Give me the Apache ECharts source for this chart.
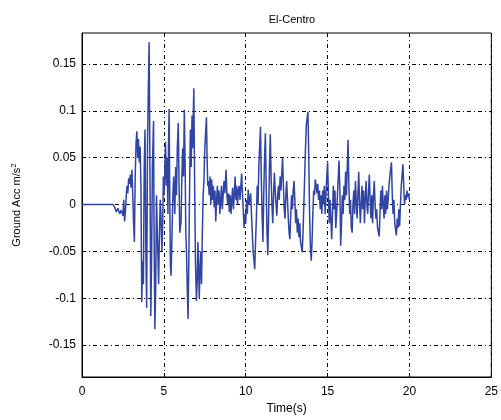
<!DOCTYPE html>
<html>
<head>
<meta charset="utf-8">
<script src="https://cdn.jsdelivr.net/npm/echarts@6/dist/echarts.min.js"></script>
<style>html,body{margin:0;padding:0;background:#fff;}#c{width:501px;height:420px;}</style>
</head>
<body>
<div id="c"></div>
<script>
const titleText = 'El-Centro';
const xTicks = [0, 5, 10, 15, 20, 25];
const yTicks = [-0.15, -0.1, -0.05, 0, 0.05, 0.1, 0.15];
const yTickLabels = ['-0.15', '-0.1', '-0.05', '0', '0.05', '0.1', '0.15'];
// [time (s), ground acceleration]
const accRecord = [
[0,0],[1.9,0],[2.0,-0.003],[2.1,-0.008],[2.2,-0.004],[2.3,-0.010],[2.4,-0.006],[2.5,-0.012],[2.55,0.005],[2.6,-0.018],
[2.65,-0.008],[2.7,0.008],[2.75,0.020],[2.8,0.012],[2.85,0.028],[2.9,0.022],[2.95,0.032],[3.0,0.018],[3.05,0.037],[3.1,0.010],
[3.15,-0.020],[3.2,-0.040],[3.25,0.030],[3.3,0.065],[3.35,0.078],[3.4,0.050],[3.45,0.070],[3.5,0.045],[3.55,0.062],[3.6,0.020],
[3.65,-0.104],[3.7,-0.060],[3.75,-0.085],[3.8,0.040],[3.85,0.080],[3.9,-0.050],[3.95,-0.110],[4.0,0.060],[4.05,0.120],[4.1,0.173],
[4.15,0.040],[4.2,-0.119],[4.25,-0.060],[4.3,0.040],[4.37,0.089],[4.4,-0.020],[4.45,-0.133],[4.5,-0.090],[4.55,0.010],[4.6,-0.030],
[4.68,-0.085],[4.72,-0.040],[4.78,0.005],[4.82,-0.010],[4.88,-0.050],[4.93,-0.020],[4.97,0.030],[5.02,0.010],[5.1,0.067],[5.15,0.020],
[5.2,0.050],[5.25,-0.010],[5.28,0.060],[5.32,0.102],[5.36,0.010],[5.4,-0.065],[5.44,-0.076],[5.5,-0.030],[5.55,0.010],[5.6,0.030],
[5.67,-0.010],[5.72,0.040],[5.77,0.010],[5.82,0.060],[5.88,0.087],[5.93,0.020],[5.97,-0.030],[6.05,-0.018],[6.1,0.030],[6.15,0.060],
[6.2,0.030],[6.25,0.101],[6.3,0.040],[6.34,-0.030],[6.38,-0.050],[6.43,-0.090],[6.48,-0.122],[6.53,-0.050],[6.58,0.030],[6.62,0.080],
[6.67,0.040],[6.72,0.095],[6.76,0.060],[6.83,0.124],[6.88,0.020],[6.93,-0.060],[6.99,-0.103],[7.04,-0.080],[7.08,-0.040],[7.12,-0.065],
[7.16,-0.100],[7.2,-0.074],[7.25,-0.050],[7.3,-0.085],[7.35,-0.030],[7.4,0.010],[7.45,0.027],[7.5,0.060],[7.6,0.093],[7.64,0.050],
[7.68,0.020],[7.72,0.025],[7.77,0.010],[7.82,0.030],[7.87,0.000],[7.92,0.027],[7.97,0.005],[8.02,0.020],[8.07,-0.003],[8.12,0.015],
[8.17,-0.018],[8.22,0.005],[8.27,0.020],[8.32,0.000],[8.37,0.015],[8.42,-0.010],[8.47,0.005],[8.52,0.020],[8.57,-0.005],[8.62,0.010],
[8.67,0.025],[8.72,0.012],[8.8,0.037],[8.85,0.010],[8.9,0.000],[8.95,0.012],[9.0,-0.008],[9.05,0.010],[9.1,-0.010],[9.15,0.005],
[9.2,0.018],[9.25,-0.005],[9.3,0.010],[9.35,0.030],[9.4,0.005],[9.45,0.020],[9.5,0.000],[9.55,0.015],[9.6,0.020],[9.65,0.005],
[9.75,0.033],[9.8,0.012],[9.9,-0.025],[9.95,-0.010],[10.0,-0.020],[10.05,0.005],[10.1,-0.010],[10.15,0.016],[10.2,0.000],[10.3,0.012],
[10.35,-0.010],[10.4,-0.030],[10.45,-0.050],[10.55,-0.069],[10.6,-0.040],[10.65,-0.015],[10.7,0.020],[10.75,0.000],[10.8,0.040],[10.9,0.083],
[10.95,0.030],[11.0,-0.010],[11.05,-0.040],[11.1,0.010],[11.15,0.050],[11.2,0.076],[11.25,0.020],[11.3,-0.030],[11.35,-0.054],[11.4,-0.010],
[11.45,0.040],[11.5,0.075],[11.55,0.030],[11.6,0.000],[11.65,-0.020],[11.7,0.010],[11.75,0.034],[11.8,0.015],[11.85,0.000],[11.9,-0.012],
[11.95,0.010],[12.0,0.020],[12.05,0.005],[12.1,0.030],[12.15,0.015],[12.25,0.050],[12.3,0.020],[12.35,-0.005],[12.4,-0.015],[12.45,0.010],
[12.5,0.025],[12.55,0.005],[12.6,-0.015],[12.65,-0.030],[12.7,-0.037],[12.75,-0.010],[12.8,0.010],[12.85,-0.005],[12.9,0.015],[12.95,0.025],
[13.0,0.005],[13.05,-0.020],[13.1,-0.005],[13.15,-0.030],[13.2,-0.015],[13.25,-0.035],[13.3,-0.020],[13.35,-0.040],[13.45,-0.051],[13.5,-0.030],
[13.55,0.000],[13.6,0.030],[13.65,0.060],[13.7,0.085],[13.8,0.099],[13.85,0.050],[13.9,-0.010],[13.95,-0.045],[14.0,-0.060],[14.05,-0.040],
[14.1,-0.010],[14.15,0.015],[14.2,0.010],[14.25,0.027],[14.3,0.020],[14.35,0.012],[14.4,0.022],[14.45,0.005],[14.5,0.015],[14.55,-0.005],
[14.6,0.010],[14.65,-0.010],[14.7,0.015],[14.75,0.000],[14.8,0.020],[14.85,-0.010],[14.9,0.010],[14.95,0.030],[15.0,0.045],[15.05,0.010],
[15.1,-0.020],[15.15,0.005],[15.2,-0.015],[15.25,-0.037],[15.3,-0.010],[15.35,0.020],[15.4,-0.005],[15.45,0.015],[15.5,-0.025],[15.55,-0.010],
[15.6,0.010],[15.7,0.047],[15.75,0.015],[15.8,-0.044],[15.85,-0.020],[15.9,0.010],[15.95,-0.010],[16.0,0.020],[16.05,0.005],[16.1,0.035],
[16.15,0.010],[16.25,0.069],[16.3,0.020],[16.35,-0.010],[16.4,0.005],[16.45,-0.025],[16.5,-0.030],[16.55,0.000],[16.6,0.015],[16.65,-0.010],
[16.7,0.025],[16.75,0.005],[16.8,-0.015],[16.85,0.010],[16.9,0.035],[16.95,0.005],[17.0,-0.020],[17.05,0.000],[17.1,0.020],[17.15,-0.005],
[17.2,0.015],[17.25,-0.020],[17.3,0.005],[17.35,0.025],[17.4,0.000],[17.45,-0.010],[17.5,0.015],[17.55,0.032],[17.6,0.005],[17.65,-0.015],
[17.7,0.010],[17.75,-0.020],[17.8,0.010],[17.85,0.025],[17.9,0.000],[17.95,-0.015],[18.0,-0.005],[18.05,-0.025],[18.15,-0.034],[18.2,-0.010],
[18.25,0.015],[18.3,-0.005],[18.35,0.020],[18.4,0.000],[18.45,-0.015],[18.5,0.010],[18.55,-0.010],[18.6,0.015],[18.65,-0.005],[18.7,0.005],
[18.75,0.020],[18.8,0.030],[18.9,0.045],[18.95,0.010],[19.0,-0.010],[19.05,0.005],[19.1,-0.020],[19.2,-0.033],[19.25,-0.015],[19.3,-0.025],
[19.35,-0.005],[19.4,-0.023],[19.45,0.000],[19.5,0.020],[19.6,0.043],[19.65,0.020],[19.7,0.000],[19.75,0.010],[19.8,0.005],[19.85,0.015],
[19.9,0.008],[19.95,0.012],[20.0,0.005]
];

const chart = echarts.init(document.getElementById('c'), null, {renderer: 'canvas'});
const gridDash = {color: '#000', width: 1, type: [4, 3, 1, 3]};
const fontFam = 'Liberation Sans, Arial, sans-serif';
chart.setOption({
  animation: false,
  backgroundColor: '#fff',
  title: {
    text: titleText, left: 287, top: 9, textAlign: 'center',
    textStyle: {fontSize: 11, fontWeight: 'normal', color: '#000', fontFamily: fontFam}
  },
  grid: {left: 82, right: 9, top: 33, bottom: 42, show: true, borderColor: '#000', borderWidth: 1, backgroundColor: 'transparent'},
  xAxis: {
    type: 'value', min: 0, max: 25, interval: 5,
    name: 'Time(s)', nameLocation: 'middle', nameGap: 26,
    nameTextStyle: {fontSize: 12, color: '#000', fontFamily: fontFam},
    axisLine: {show: true, onZero: false, lineStyle: {color: '#000'}},
    axisTick: {show: true, inside: true, length: 4, lineStyle: {color: '#000'}},
    axisLabel: {color: '#000', fontSize: 12, fontFamily: fontFam, margin: 9},
    splitLine: {show: true, lineStyle: gridDash}
  },
  yAxis: {
    type: 'value', min: -0.184, max: 0.183,
    name: 'Ground Acc m/s{sup|2}', nameLocation: 'middle', nameGap: 58, nameRotate: 90,
    nameTextStyle: {fontSize: 11, color: '#000', fontFamily: fontFam,
      rich: {sup: {fontSize: 8, verticalAlign: 'top', padding: [0, 0, 6, 0], color: '#000', fontFamily: fontFam}}},
    axisLine: {show: true, onZero: false, lineStyle: {color: '#000'}},
    axisTick: {show: true, inside: true, length: 4, lineStyle: {color: '#000'}, customValues: yTicks},
    axisLabel: {color: '#000', fontSize: 12, fontFamily: fontFam, margin: 6, customValues: yTicks,
      formatter: function (v) { const i = yTicks.findIndex(t => Math.abs(t - v) < 1e-9); return i >= 0 ? yTickLabels[i] : ''; }},
    splitLine: {show: true, lineStyle: gridDash}
  },
  series: [{
    type: 'line', data: accRecord, showSymbol: false, symbol: 'none',
    lineStyle: {color: '#3044a4', width: 1.5}, itemStyle: {color: '#3044a4'},
    z: 1
  }]
});
</script>
</body>
</html>
